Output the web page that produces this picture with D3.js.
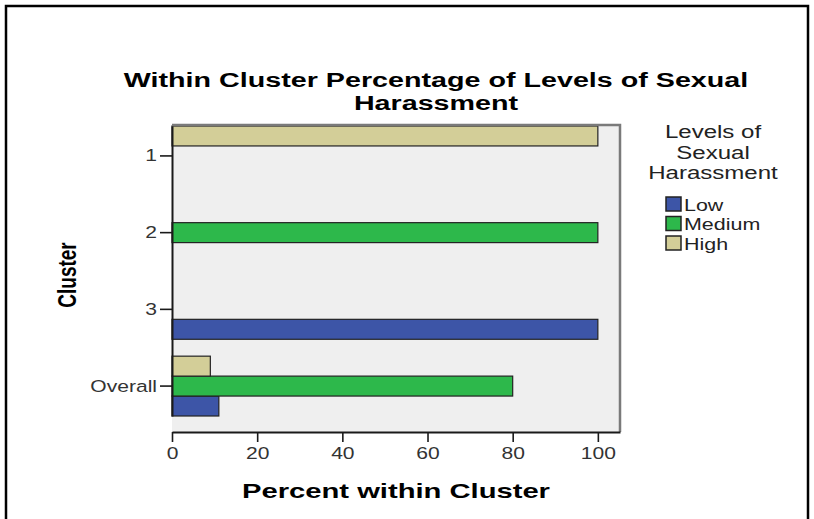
<!DOCTYPE html>
<html>
<head>
<meta charset="utf-8">
<script src="https://cdn.jsdelivr.net/npm/d3@7"></script>
<style>
  body { margin: 0; background: #fff; }
  svg { display: block; }
  text { font-family: "Liberation Sans", Arial, sans-serif; }
</style>
</head>
<body>
<svg id="chart" width="814" height="519"></svg>
<script>
// chart data
var clusters = ['1', '2', '3', 'Overall'];
var levels = ['Low', 'Medium', 'High'];
var lowValues = [0, 0, 100, 11];
var mediumValues = [0, 100, 0, 80];
var highValues = [100, 0, 0, 9];
var xTicks = [0, 20, 40, 60, 80, 100];
var titleLines = ['Within Cluster Percentage of Levels of Sexual', 'Harassment'];
var legendTitle = ['Levels of', 'Sexual', 'Harassment'];

var colors = { Low: '#3d55a7', Medium: '#2db84b', High: '#d3ce98' };
var seriesValues = { Low: lowValues, Medium: mediumValues, High: highValues };

var svg = d3.select('#chart');
var plot = { left: 172, right: 620, top: 125, bottom: 432 };

// the source picture is stretched sideways, so text gets a scaleX
var stretchText = function (sel, x, y, sx) {
    return sel.attr('x', 0).attr('y', 0)
        .attr('transform', 'translate(' + x + ',' + y + ') scale(' + sx + ',1)');
};

// outer frame
svg.append('rect')
    .attr('x', 6).attr('y', 6)
    .attr('width', 802).attr('height', 540)
    .attr('fill', 'none')
    .attr('stroke', '#000')
    .attr('stroke-width', 2.5);

// title
titleLines.forEach(function (line, i) {
    stretchText(svg.append('text'), 436, 87 + i * 23, 1.4)
        .attr('text-anchor', 'middle')
        .style('font-size', '20.5px')
        .style('font-weight', 'bold')
        .attr('fill', '#000')
        .text(line);
});

var x = d3.scaleLinear()
    .domain([0, 105.2])
    .range([plot.left, plot.right]);
// bar groups sit close to the top of the frame, with room below
var y = d3.scaleBand()
    .domain(clusters)
    .range([plot.top + 1, plot.bottom - 16])
    .paddingInner(0.22);
var inner = d3.scaleBand()
    .domain(['High', 'Medium', 'Low'])
    .range([0, y.bandwidth()]);

// plot background
svg.append('rect')
    .attr('x', plot.left).attr('y', plot.top)
    .attr('width', plot.right - plot.left)
    .attr('height', plot.bottom - plot.top)
    .attr('fill', '#efefef');

// bars
var barData = [];
clusters.forEach(function (c, i) {
    levels.forEach(function (l) {
        barData.push({ cluster: c, level: l, value: seriesValues[l][i] });
    });
});
svg.append('g').selectAll('rect')
    .data(barData)
    .enter()
    .append('rect')
    .attr('x', x(0))
    .attr('y', function (d) { return y(d.cluster) + inner(d.level); })
    .attr('width', function (d) { return x(d.value) - x(0); })
    .attr('height', inner.bandwidth())
    .attr('fill', function (d) { return colors[d.level]; })
    .attr('stroke', '#222')
    .attr('stroke-width', 1.2);

// top and right frame
svg.append('path')
    .attr('d', 'M' + plot.left + ',' + plot.top + 'H' + plot.right + 'V' + plot.bottom)
    .attr('fill', 'none')
    .attr('stroke', '#7a7a7a')
    .attr('stroke-width', 2.5);

// axes
var xAxis = svg.append('g')
    .attr('transform', 'translate(0,' + plot.bottom + ')')
    .call(d3.axisBottom(x).tickValues(xTicks).tickSize(10).tickPadding(5).tickSizeOuter(0));
var yAxis = svg.append('g')
    .attr('transform', 'translate(' + plot.left + ',0)')
    .call(d3.axisLeft(y).tickSize(12).tickPadding(3).tickSizeOuter(0));

[xAxis, yAxis].forEach(function (ax) {
    ax.select('.domain').attr('stroke', '#1a1a1a').attr('stroke-width', 2);
    ax.selectAll('.tick line').attr('stroke', '#1a1a1a').attr('stroke-width', 1.6);
    ax.selectAll('.tick text')
        .attr('fill', '#333')
        .style('font-size', '17px')
        .style('font-family', '"Liberation Sans", Arial, sans-serif');
});
xAxis.selectAll('.tick text').attr('transform', 'scale(1.24,1)');
yAxis.selectAll('.tick text')
    .attr('x', -15 / 1.24)
    .attr('transform', 'scale(1.24,1)');

// axis titles
stretchText(svg.append('text'), (plot.left + plot.right) / 2, 498, 1.39)
    .attr('text-anchor', 'middle')
    .style('font-size', '21px')
    .style('font-weight', 'bold')
    .text('Percent within Cluster');

svg.append('text')
    .attr('text-anchor', 'middle')
    .attr('transform', 'translate(76,275) rotate(-90) scale(1,1.37)')
    .style('font-size', '19px')
    .style('font-weight', 'bold')
    .text('Cluster');

// legend
legendTitle.forEach(function (line, i) {
    stretchText(svg.append('text'), 713, 138 + i * 20.5, 1.3)
        .attr('text-anchor', 'middle')
        .style('font-size', '18.5px')
        .attr('fill', '#222')
        .text(line);
});
var legend = svg.append('g').selectAll('g')
    .data(levels)
    .enter()
    .append('g')
    .attr('transform', function (d, i) { return 'translate(666,' + (197 + i * 19.5) + ')'; });
legend.append('rect')
    .attr('width', 15).attr('height', 14)
    .attr('fill', function (d) { return colors[d]; })
    .attr('stroke', '#222')
    .attr('stroke-width', 1.5);
legend.each(function (d) {
    stretchText(d3.select(this).append('text'), 18, 13.5, 1.3)
        .style('font-size', '16.5px')
        .attr('fill', '#222')
        .text(d);
});
</script>
</body>
</html>
